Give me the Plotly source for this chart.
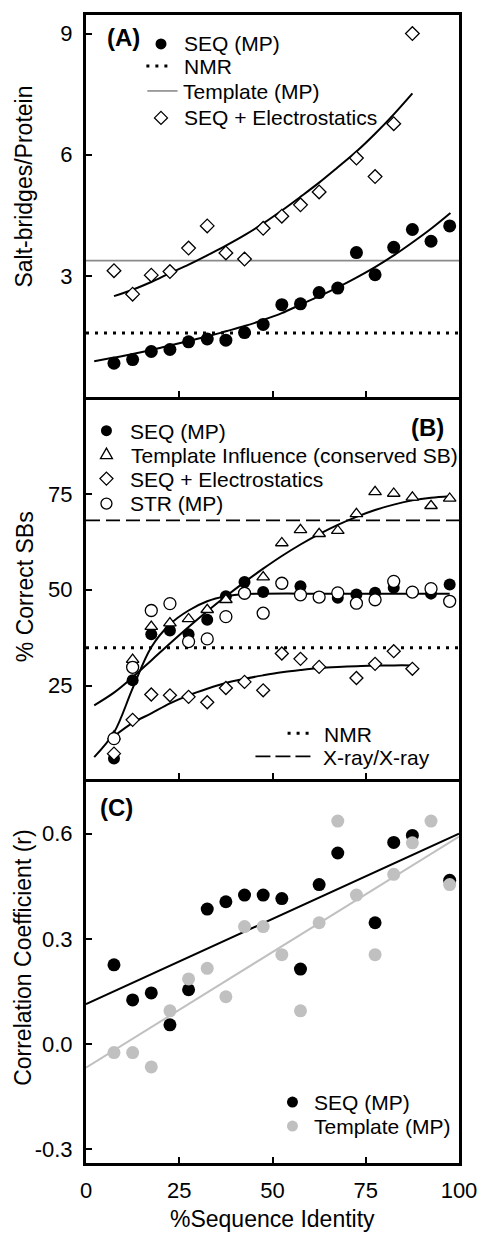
import plotly.graph_objects as go

# ---------------- data ----------------
pct_id = [7.5, 12.5, 17.5, 22.5, 27.5, 32.5, 37.5, 42.5, 47.5, 52.5,
          57.5, 62.5, 67.5, 72.5, 77.5, 82.5, 87.5, 92.5, 97.5]

# Panel A : salt-bridges per protein
a_seq_mp = [0.84, 0.93, 1.13, 1.18, 1.37, 1.44, 1.41, 1.60, 1.80, 2.29,
            2.31, 2.59, 2.70, 3.58, 3.03, 3.71, 4.15, 3.86, 4.24]
a_elec_x = [7.5, 12.5, 17.5, 22.5, 27.5, 32.5, 37.5, 42.5, 47.5, 52.5,
            57.5, 62.5, 72.5, 77.5, 82.5, 87.5]
a_elec = [3.13, 2.55, 3.02, 3.11, 3.69, 4.24, 3.57, 3.42, 4.18, 4.48,
          4.76, 5.08, 5.92, 5.46, 6.77, 9.00]
a_nmr = 1.59
a_template = 3.38
a_seq_fit_x = [2.2, 7.5, 12.5, 17.5, 22.5, 27.5, 32.5, 37.5, 42.5, 47.5,
               52.5, 57.5, 62.5, 67.5, 72.5, 77.5, 82.5, 87.5, 92.5, 97.7]
a_seq_fit = [0.89, 0.98, 1.07, 1.17, 1.28, 1.39, 1.50, 1.63, 1.76, 1.91,
             2.08, 2.29, 2.50, 2.72, 2.96, 3.22, 3.51, 3.83, 4.17, 4.56]
a_elec_fit_x = [7.5, 12.5, 17.5, 22.5, 27.5, 32.5, 37.5, 42.5, 47.5, 52.5,
                57.5, 62.5, 67.5, 72.5, 77.5, 82.5, 87.5]
a_elec_fit = [2.50, 2.66, 2.85, 3.07, 3.28, 3.51, 3.75, 4.01, 4.30, 4.62,
              4.96, 5.31, 5.69, 6.08, 6.52, 7.00, 7.52]

# Panel B : % correct salt-bridges
b_seq_mp = [6.0, 26.4, 38.4, 39.4, 38.4, 42.2, 48.3, 52.0, 49.4, 51.7,
            50.9, 48.1, 47.9, 48.8, 49.2, 50.5, 49.4, 49.0, 51.4]
b_tmpl_x = [7.5, 12.5, 17.5, 22.5, 27.5, 32.5, 37.5, 47.5, 52.5, 57.5,
            62.5, 67.5, 72.5, 77.5, 82.5, 87.5, 92.5, 97.5]
b_tmpl = [11.8, 31.8, 40.4, 41.3, 42.4, 44.8, 47.4, 53.3, 62.2, 65.6,
          64.6, 65.4, 69.8, 75.5, 75.1, 74.1, 71.9, 73.8]
b_elec_x = [7.5, 12.5, 17.5, 22.5, 27.5, 32.5, 37.5, 42.5, 47.5, 52.5,
            57.5, 62.5, 72.5, 77.5, 82.5, 87.5]
b_elec = [7.3, 16.1, 22.7, 22.5, 22.1, 20.7, 24.4, 26.0, 23.8, 33.4,
          32.0, 29.9, 27.0, 30.7, 34.0, 29.4]
b_str_mp = [11.2, 29.8, 44.6, 46.4, 36.5, 37.2, 43.0, 49.1, 43.9, 51.7,
            48.7, 48.1, 49.2, 46.5, 47.4, 52.2, 49.4, 50.3, 47.0]
b_nmr = 34.9
b_xray = 68.1
b_seq_fit_x = [2.2, 7.5, 12.5, 17.5, 22.5, 27.5, 32.5, 37.5, 42.5, 47.5,
               57.5, 67.5, 77.5, 87.5, 97.5]
b_seq_fit = [6.4, 12.8, 24.3, 35.0, 41.0, 44.6, 47.0, 48.3, 48.9, 49.0,
             49.0, 49.0, 49.0, 49.0, 49.0]
b_tmpl_fit_x = [2.2, 7.5, 12.5, 17.5, 22.5, 27.5, 32.5, 37.5, 42.5, 47.5,
                52.5, 57.5, 62.5, 67.5, 72.5, 77.5, 82.5, 87.5, 92.5, 97.5]
b_tmpl_fit = [19.9, 23.2, 27.2, 31.6, 36.0, 40.3, 44.4, 48.3, 52.0, 55.5,
              58.8, 61.8, 64.5, 66.9, 69.0, 70.8, 72.2, 73.3, 74.0, 74.4]
b_elec_fit_x = [7.5, 12.5, 17.5, 22.5, 27.5, 32.5, 37.5, 42.5, 47.5, 52.5,
                57.5, 62.5, 67.5, 72.5, 77.5, 82.5, 87.5]
b_elec_fit = [11.8, 15.3, 17.8, 20.4, 22.5, 24.2, 25.7, 26.8, 27.7, 28.5,
              29.1, 29.6, 29.9, 30.1, 30.2, 30.3, 30.3]

# Panel C : correlation coefficient
c_seq_x = [7.5, 12.5, 17.5, 22.5, 27.5, 32.5, 37.5, 42.5, 47.5, 52.5,
           57.5, 62.5, 67.5, 77.5, 82.5, 87.5, 97.5]
c_seq_mp = [0.226, 0.126, 0.146, 0.055, 0.155, 0.385, 0.406, 0.425, 0.425,
            0.415, 0.214, 0.455, 0.545, 0.346, 0.575, 0.595, 0.467]
c_tmpl_mp = [-0.024, -0.024, -0.065, 0.095, 0.186, 0.216, 0.135, 0.335,
             0.335, 0.255, 0.095, 0.346, 0.636, 0.425, 0.255, 0.484, 0.574,
             0.636, 0.455]
c_fit_x = [0, 100]
c_seq_fit = [0.114, 0.600]
c_tmpl_fit = [-0.067, 0.592]

x_ticks = [0, 25, 50, 75, 100]
a_ticks = [3, 6, 9]
b_ticks = [25, 50, 75]
c_ticks = [-0.3, 0.0, 0.3, 0.6]
c_tick_text = ["-0.3", "0.0", "0.3", "0.6"]

# ---------------- styling ----------------
FONT = "Liberation Sans, Arial, sans-serif"
W, H = 489, 1233
ML, MR, MT, MB = 86, 20, 14, 70
GREY = "#c0c0c0"


def PX(px):
    return (px - ML) / (W - ML - MR)


def PY(py):
    return (H - MB - py) / (H - MT - MB)


fig = go.Figure()


def fit(x, y, ax, color="black", width=2):
    fig.add_trace(go.Scatter(x=x, y=y, mode="lines", xaxis=ax[0], yaxis=ax[1],
                             line=dict(color=color, width=width, shape="spline", smoothing=1.0),
                             showlegend=False, hoverinfo="skip"))


def hline(val, ax, dash, color="black", width=2.5):
    fig.add_trace(go.Scatter(x=[0, 100], y=[val, val], mode="lines", xaxis=ax[0], yaxis=ax[1],
                             line=dict(color=color, width=width, dash=dash),
                             showlegend=False, hoverinfo="skip"))


def pts(x, y, ax, symbol, size, fill, line="black", lw=1.3):
    fig.add_trace(go.Scatter(x=x, y=y, mode="markers", xaxis=ax[0], yaxis=ax[1],
                             marker=dict(symbol=symbol, size=size, color=fill,
                                         line=dict(color=line, width=lw)),
                             showlegend=False, cliponaxis=False))


A = ("x", "y")
B = ("x2", "y2")
C = ("x3", "y3")

# Panel A
hline(a_nmr, A, "3px,6px", width=3)
hline(a_template, A, "solid", color="#8a8a8a", width=1.6)
fit(a_seq_fit_x, a_seq_fit, A)
fit(a_elec_fit_x, a_elec_fit, A)
pts(pct_id, a_seq_mp, A, "circle", 13, "black", lw=0)
pts(a_elec_x, a_elec, A, "diamond", 10.5, "white")

# Panel B
hline(b_nmr, B, "3px,6px", width=3)
hline(b_xray, B, "14px,6px", width=1.6)
fit(b_seq_fit_x, b_seq_fit, B)
fit(b_tmpl_fit_x, b_tmpl_fit, B)
fit(b_elec_fit_x, b_elec_fit, B)
pts(pct_id, b_seq_mp, B, "circle", 12, "black", lw=0)
pts(b_tmpl_x, b_tmpl, B, "triangle-up", 11, "white")
pts(b_elec_x, b_elec, B, "diamond", 10, "white")
pts(pct_id, b_str_mp, B, "circle", 12, "white")

# Panel C
fit(c_fit_x, c_seq_fit, C, width=2)
fit(c_fit_x, c_tmpl_fit, C, color=GREY, width=2)
pts(c_seq_x, c_seq_mp, C, "circle", 13, "black", lw=0)
pts(pct_id, c_tmpl_mp, C, "circle", 13, GREY, lw=0)

# ---------------- axes ----------------
axline = dict(showline=True, linecolor="black", linewidth=3, showgrid=False, zeroline=False,
              ticks="inside", ticklen=6, tickwidth=2, tickcolor="black",
              tickfont=dict(family=FONT, size=22, color="black"))

dA = [PY(396.5), 1.0]
dB = [PY(779), PY(396.5)]
dC = [0.0, PY(779)]

fig.update_layout(
    width=W, height=H, margin=dict(l=ML, r=MR, t=MT, b=MB),
    paper_bgcolor="white", plot_bgcolor="white", showlegend=False,
    font=dict(family=FONT, color="black"),
    xaxis=dict(axline, domain=[0, 1], anchor="y", range=[0, 100], tickvals=[25, 50, 75],
               showticklabels=False, mirror=True),
    yaxis=dict(axline, domain=dA, anchor="x", range=[0, 9.46], tickvals=a_ticks,
               mirror=True, ticklabelstandoff=6),
    xaxis2=dict(axline, domain=[0, 1], anchor="y2", range=[0, 100], tickvals=[25, 50, 75],
                showticklabels=False, mirror=False),
    yaxis2=dict(axline, domain=dB, anchor="x2", range=[0.6, 100.2], tickvals=b_ticks,
                mirror=True, ticklabelstandoff=6),
    xaxis3=dict(axline, domain=[0, 1], anchor="y3", range=[0, 100], tickvals=x_ticks,
                mirror=False, ticklabelstandoff=6),
    yaxis3=dict(axline, domain=dC, anchor="x3", range=[-0.339, 0.755], tickvals=c_ticks,
                ticktext=c_tick_text, mirror=True, ticklabelstandoff=6),
)

# ---------------- titles & panel labels ----------------
ann = []


def text(t, px, py, size=21, anchor="left", bold=False, angle=0):
    ann.append(dict(text=("<b>%s</b>" % t) if bold else t, x=PX(px), y=PY(py),
                    xref="paper", yref="paper", xanchor=anchor, yanchor="middle",
                    showarrow=False, textangle=angle,
                    font=dict(family=FONT, size=size, color="black")))


text("Salt-bridges/Protein", 22, 186, size=23, anchor="center", angle=-90)
text("% Correct SBs", 23, 586, size=23, anchor="center", angle=-90)
text("Correlation Coefficient (r)", 22, 957, size=23, anchor="center", angle=-90)
text("%Sequence Identity", 278, 1219, size=23, anchor="center")

text("(A)", 124, 37, size=24, anchor="center", bold=True)
text("(B)", 437, 427, size=24, anchor="center", bold=True)
text("(C)", 117, 807, size=24, anchor="center", bold=True)

# legend texts
text("SEQ (MP)", 185, 43)
text("NMR", 185, 66)
text("Template (MP)", 184, 91)
text("SEQ + Electrostatics", 185, 117)

text("SEQ (MP)", 129, 431)
text("Template Influence (conserved SB)", 130, 455)
text("SEQ + Electrostatics", 129, 479)
text("STR (MP)", 129, 503)
text("NMR", 328, 734)
text("X-ray/X-ray", 327, 757)

text("SEQ (MP)", 318, 1102)
text("Template (MP)", 318, 1126)

# ---------------- legend swatches ----------------
shp = []


def circ(cx, cy, r, fill, lw=1.3, lc="black"):
    shp.append(dict(type="circle", xref="paper", yref="paper", xsizemode="pixel",
                    ysizemode="pixel", xanchor=PX(cx), yanchor=PY(cy),
                    x0=-r, x1=r, y0=-r, y1=r, fillcolor=fill,
                    line=dict(color=lc, width=lw)))


def poly(cx, cy, path, fill="white"):
    shp.append(dict(type="path", xref="paper", yref="paper", xsizemode="pixel",
                    ysizemode="pixel", xanchor=PX(cx), yanchor=PY(cy), path=path,
                    fillcolor=fill, line=dict(color="black", width=1.3)))


def seg(x0, x1, y, dash, color="black", width=2.5):
    shp.append(dict(type="line", xref="paper", yref="paper", x0=PX(x0), x1=PX(x1),
                    y0=PY(y), y1=PY(y), line=dict(color=color, width=width, dash=dash)))


DIAM = "M 0,6.5 L 6.5,0 L 0,-6.5 L -6.5,0 Z"
TRI = "M -6,-4 L 6,-4 L 0,6.5 Z"

circ(163, 43, 5.5, "black", lw=0)
seg(148, 175, 65, "3px,6px", width=3)
seg(149, 180, 90, "solid", color="#8a8a8a", width=1.6)
poly(163, 117, DIAM)

circ(107, 430, 5.5, "black", lw=0)
poly(107, 454, TRI)
poly(107, 478, DIAM)
circ(107, 503, 5.5, "white")
seg(293, 320, 733, "3px,6px", width=3)
seg(260, 317, 756, "15px,5px", width=1.6)

circ(298, 1102, 5.5, "black", lw=0)
circ(298, 1126, 5.5, GREY, lw=0)

fig.update_layout(annotations=ann, shapes=shp)

fig.write_html("out.html", config={"displayModeBar": False},
               post_script="document.body.style.margin='0px';"
                           "document.body.style.overflow='hidden';")
